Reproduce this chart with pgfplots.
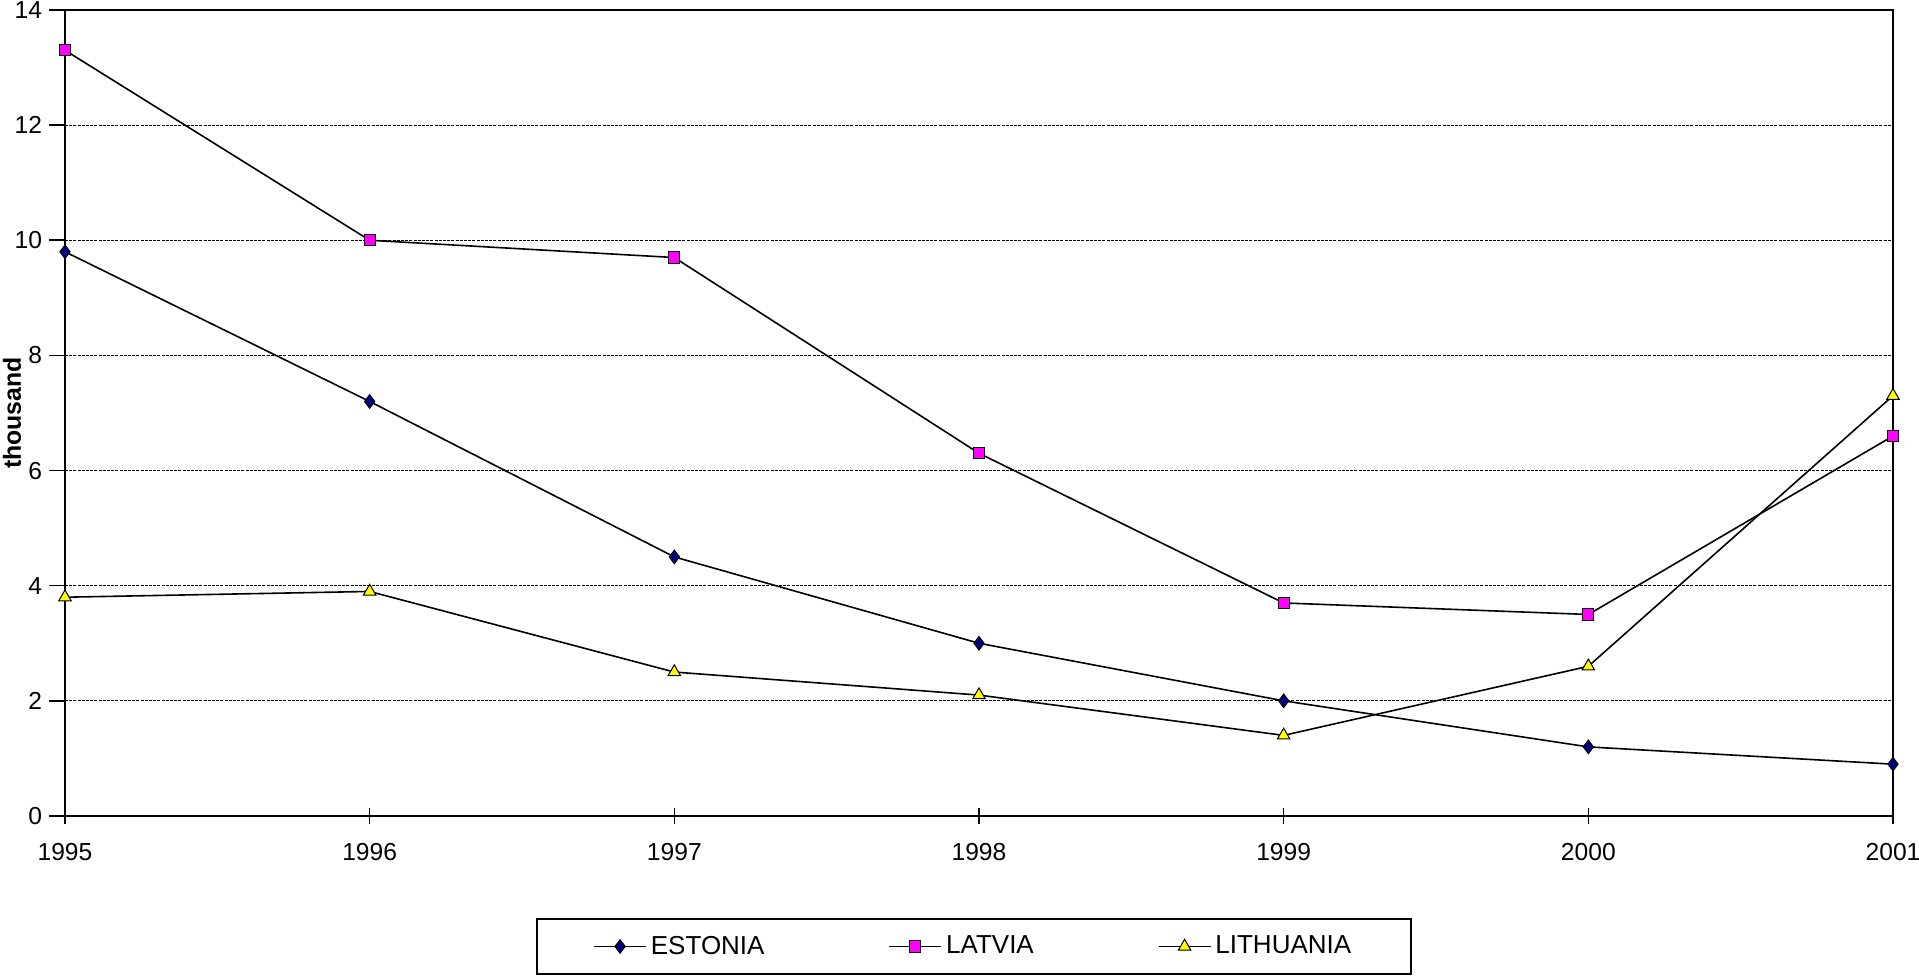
\documentclass[border=0pt]{standalone}
\usepackage{pgfplots}
\pgfplotsset{compat=1.18}
\usepackage{fontspec}
\setmainfont{Liberation Sans}
\definecolor{estc}{HTML}{000080}
\definecolor{latc}{HTML}{FF00FF}
\definecolor{litc}{HTML}{FFFF00}
\begin{document}
\begin{tikzpicture}
\path[use as bounding box] (0,0) rectangle (959.5pt,488.5pt);
\begin{axis}[
  at={(32.5pt,80.5pt)}, anchor=south west,
  scale only axis, width=914pt, height=403pt,
  xmin=1995, xmax=2001, ymin=0, ymax=14,
  xtick={1995,1996,1997,1998,1999,2000,2001},
  ytick={0,2,4,6,8,10,12,14},
  /pgf/number format/1000 sep={},
  /pgf/number format/assume math mode=true,
  ticklabel style={font=\fontsize{12.3}{14}\selectfont},
  x tick label style={yshift=-6pt},
  ylabel={\textbf{thousand}},
  every axis y label/.style={at={(axis description cs:-0.0290,0.5)}, anchor=center, rotate=90,
    font=\fontsize{12.4}{14}\selectfont},
  ymajorgrids,
  major grid style={black, line width=0.4pt, dash pattern=on 1.5pt off 0.6pt},
  axis line style={black, line width=0.9pt},
  tick style={black, line width=0.8pt},
  xtick align=center, ytick align=outside,
  major tick length=8pt,
  tick pos=left,
  legend columns=3,
  legend style={at={(0.4974,-0.1619)}, anchor=center, draw=black, line width=0.8pt,
    font=\fontsize{13}{15}\selectfont, inner xsep=28pt, inner ysep=6.5pt,
    /tikz/every even column/.append style={column sep=60pt}},
  legend image code/.code={\draw[mark repeat=2,mark phase=2,#1] plot coordinates {(0cm,0cm) (13pt,0cm) (26pt,0cm)};},
  every axis plot/.append style={black, line width=0.8pt},
]
\addplot[mark=diamond*, mark size=3.4pt, mark options={fill=estc, draw=black, line width=0.5pt}]
  coordinates {(1995,9.8) (1996,7.2) (1997,4.5) (1998,3.0) (1999,2.0) (2000,1.2) (2001,0.9)};
\addlegendentry{ESTONIA}
\addplot[mark=square*, mark size=2.8pt, mark options={fill=latc, draw=black, line width=0.5pt}]
  coordinates {(1995,13.3) (1996,10.0) (1997,9.7) (1998,6.3) (1999,3.7) (2000,3.5) (2001,6.6)};
\addlegendentry{LATVIA}
\addplot[mark=triangle*, mark size=3.6pt, mark options={fill=litc, draw=black, line width=0.5pt}]
  coordinates {(1995,3.8) (1996,3.9) (1997,2.5) (1998,2.1) (1999,1.4) (2000,2.6) (2001,7.3)};
\addlegendentry{LITHUANIA}
\end{axis}
\end{tikzpicture}
\end{document}
